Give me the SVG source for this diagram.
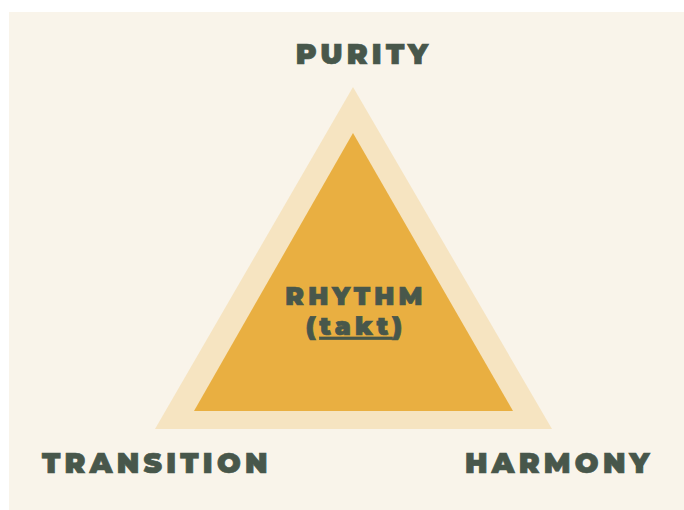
<svg xmlns="http://www.w3.org/2000/svg" width="684" height="510" viewBox="0 0 684 510">
<style>
.lbl{font-family:Montserrat,"Inter","Open Sans","DejaVu Sans",sans-serif;font-weight:900;fill:#48574b;stroke:#48574b;stroke-width:0.7px;}
.big{font-size:28px;letter-spacing:4.3px;}
.mid{font-size:25px;letter-spacing:4.2px;}
</style>
<rect x="0" y="0" width="684" height="510" fill="#ffffff"/>
<rect x="9" y="12" width="675" height="498" fill="#f9f4ea"/>
<g id="pyramid">
<polygon points="353,87 155,429 552,429" fill="#f6e4c1"/>
<polygon points="353,133 194,411 513,411" fill="#e9af41"/>
</g>
<g id="purity"><text class="lbl big" x="364" y="64" text-anchor="middle">PURITY</text></g>
<g id="rhythm">
<text class="lbl mid" x="356" y="305" text-anchor="middle">RHYTHM</text>
<text class="lbl mid" x="356" y="335" text-anchor="middle">(<tspan text-decoration="underline">takt</tspan>)</text>
</g>
<g id="transition"><text class="lbl big" x="42" y="473">TRANSITION</text></g>
<g id="harmony"><text class="lbl big" x="465" y="473">HARMONY</text></g>
<g id="connectors"/>
</svg>
